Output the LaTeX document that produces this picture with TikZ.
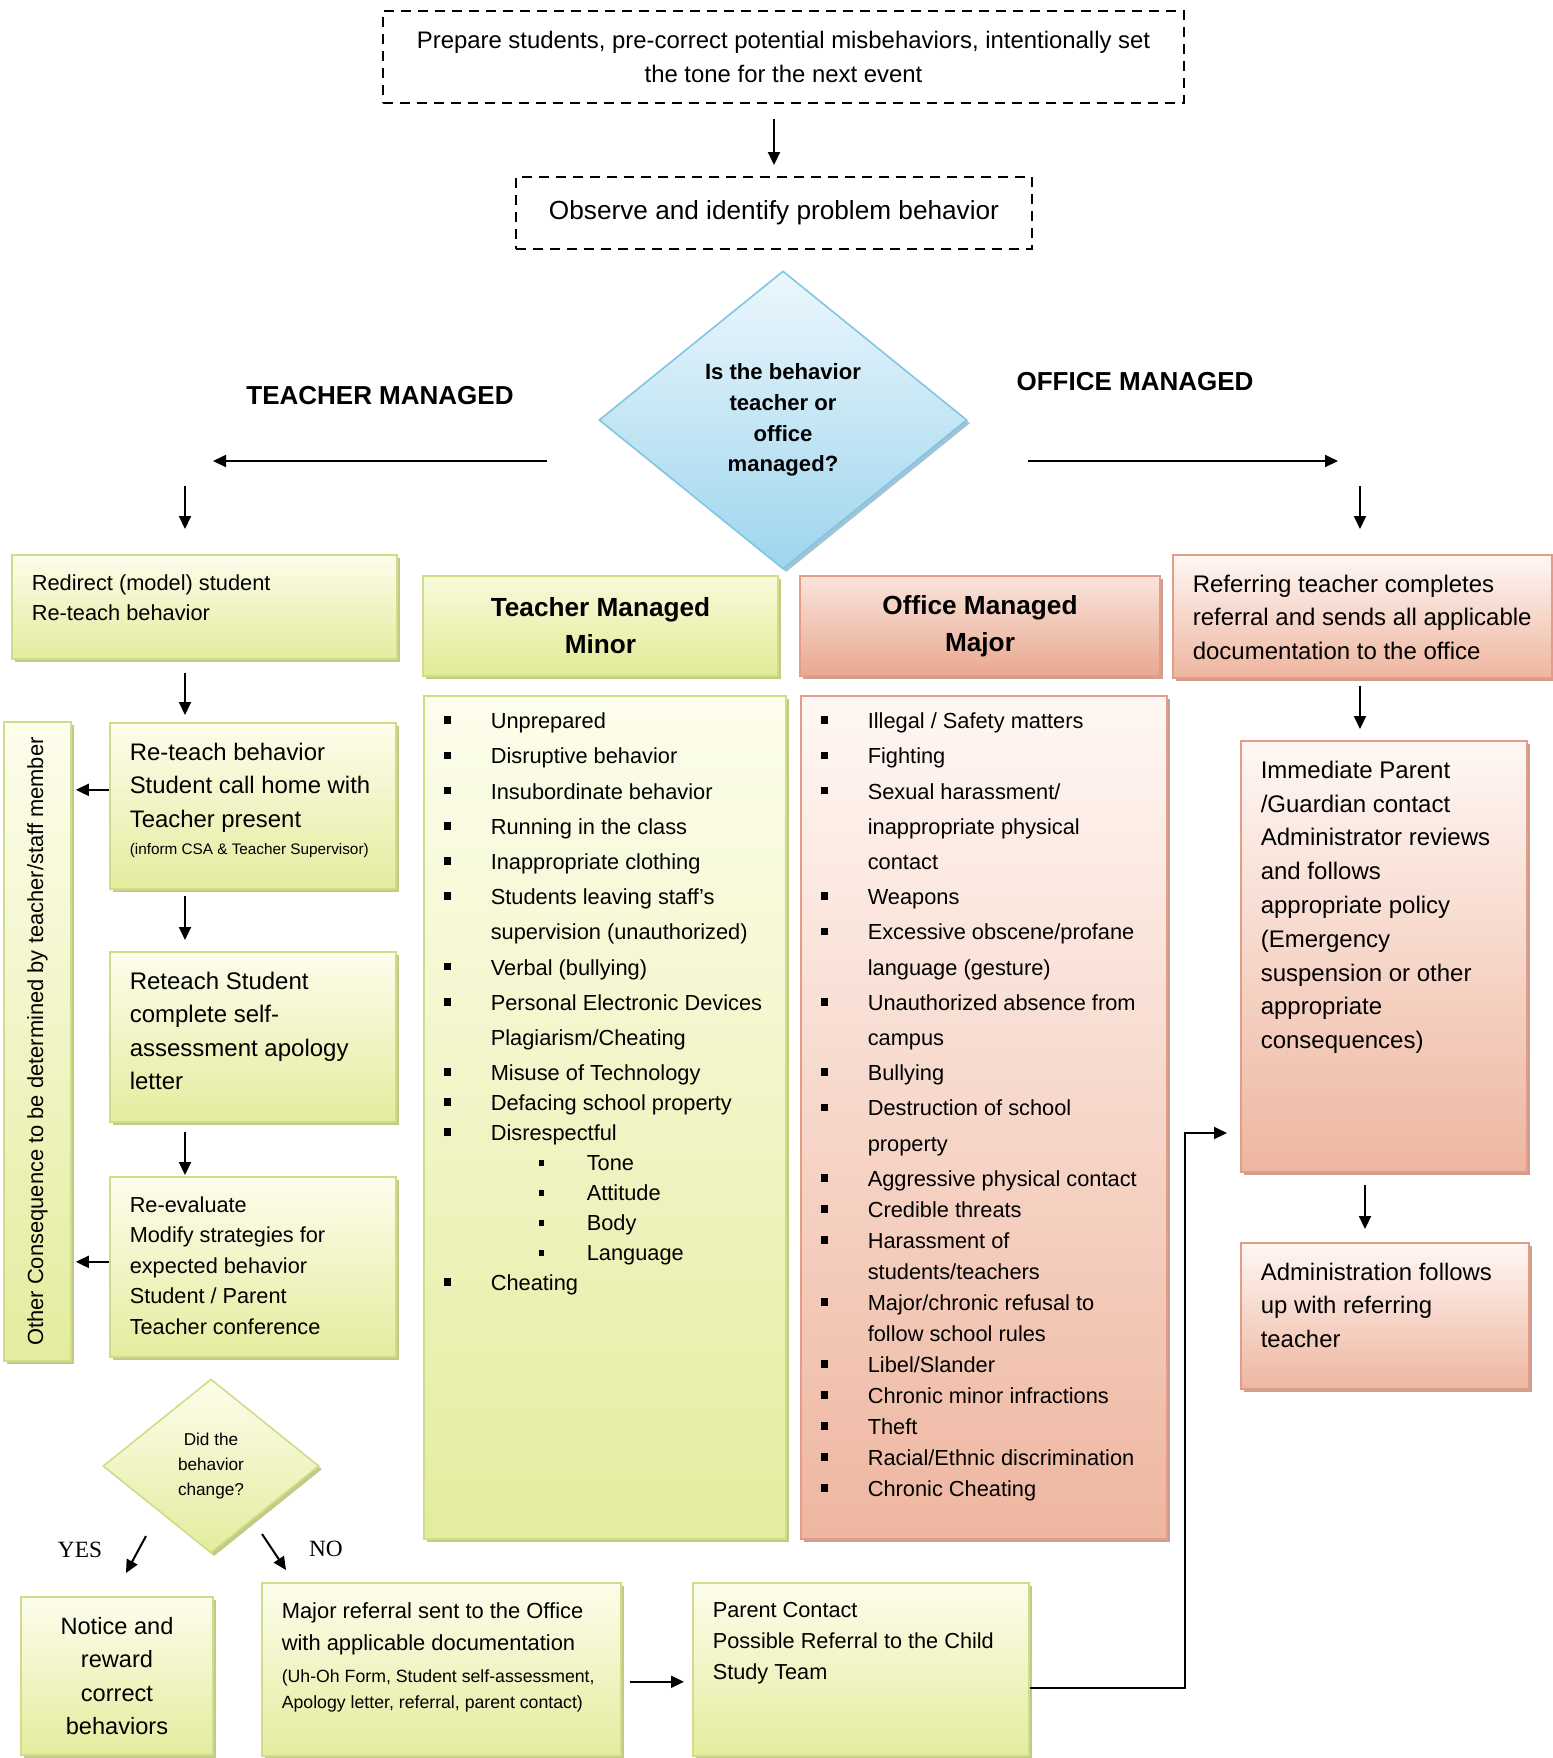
\documentclass[tikz,border=0pt]{standalone}
\usepackage{fontspec}
\setmainfont{Liberation Sans}
\newfontfamily\yesnofont{Liberation Serif}
\usepackage{tikz}
\usetikzlibrary{shapes.geometric, arrows.meta, shadows, calc}
\definecolor{grnline}{RGB}{208,220,134}
\definecolor{grntop}{RGB}{253,253,236}
\definecolor{grnbot}{RGB}{228,236,158}
\definecolor{grnshd}{RGB}{186,196,122}
\definecolor{ghtop}{RGB}{248,250,218}
\definecolor{ghbot}{RGB}{226,235,150}
\definecolor{redline}{RGB}{226,156,136}
\definecolor{redtop}{RGB}{255,247,243}
\definecolor{redbot}{RGB}{238,182,160}
\definecolor{redshd}{RGB}{196,150,134}
\definecolor{rhtop}{RGB}{249,228,219}
\definecolor{rhbot}{RGB}{233,168,144}
\definecolor{bluline}{RGB}{128,198,228}
\definecolor{blutop}{RGB}{236,247,252}
\definecolor{blubot}{RGB}{158,213,238}
\definecolor{blushd}{RGB}{120,170,195}

\newcommand{\fsz}[2]{\fontsize{#1}{#2}\selectfont}
% top-aligned text block of fixed size (width, height, text)
\newcommand{\boxtxt}[3]{\makebox[#1][l]{\parbox[c][#2][t]{\dimexpr#1+40pt\relax}{\raggedright#3}}}
% list lines: bullet, continuation, sub-bullet
\newcommand{\itm}[1]{\makebox[23.5pt][l]{\rule[2.3pt]{3.8pt}{3.8pt}}#1}
\newcommand{\itc}[1]{\hspace*{23.5pt}#1}
\newcommand{\its}[1]{\hspace*{47.5pt}\makebox[24pt][l]{\rule[2.5pt]{2.8pt}{2.8pt}}#1}

\begin{document}
\begin{tikzpicture}[
  x=0.5pt, y=-0.5pt,
  arr/.style     = {-{Triangle[length=6.5pt,width=6pt]}, line width=1pt},
  dashbox/.style = {draw, line width=1pt, dash pattern=on 5pt off 3.5pt, fill=white,
                    align=center, inner sep=0pt},
  basebox/.style = {line width=0.8pt, anchor=north west, inner sep=10pt},
  gbox/.style    = {basebox, draw=grnline, top color=grntop, bottom color=grnbot,
                    drop shadow={shadow xshift=1.6pt, shadow yshift=-1.6pt, fill=grnshd, opacity=0.9}},
  rbox/.style    = {basebox, draw=redline, top color=redtop, bottom color=redbot,
                    drop shadow={shadow xshift=1.6pt, shadow yshift=-1.6pt, fill=redshd, opacity=0.9}},
  ghead/.style   = {gbox, top color=ghtop, bottom color=ghbot, anchor=center, align=center,
                    inner sep=0pt, font=\bfseries\fsz{13.1}{18.5}},
  rhead/.style   = {rbox, top color=rhtop, bottom color=rhbot, anchor=center, align=center,
                    inner sep=0pt, font=\bfseries\fsz{13.1}{18.5}},
  glist/.style   = {gbox, inner xsep=10pt, inner ysep=8.5pt, font=\fsz{10.9}{17.6}},
  rlist/.style   = {rbox, inner xsep=10pt, inner ysep=8.5pt, font=\fsz{10.9}{17.6}},
  decide/.style  = {diamond, aspect=1.23, draw=bluline, line width=0.8pt, top color=blutop,
                    bottom color=blubot, inner sep=0pt, align=center,
                    drop shadow={shadow xshift=1.6pt, shadow yshift=-1.6pt, fill=blushd, opacity=0.7}},
  gdia/.style    = {diamond, aspect=1.24, draw=grnline, line width=0.8pt, top color=grntop,
                    bottom color=grnbot, inner sep=0pt, align=center,
                    drop shadow={shadow xshift=1.6pt, shadow yshift=-1.6pt, fill=grnshd, opacity=0.9}},
  sidelab/.style = {font=\bfseries\fsz{13}{16}},
  yn/.style      = {font=\yesnofont\fsz{11.65}{14}},
]
\useasboundingbox (0,0) rectangle (1553,1758);

%% --- Preparation and observation ---
\node[dashbox, minimum width=400.5pt, minimum height=46pt, font=\fsz{11.95}{17}] (prep) at (783.5,57)
  {Prepare students, pre-correct potential misbehaviors, intentionally set\\the tone for the next event};
\node[dashbox, minimum width=258pt, minimum height=36pt, font=\fsz{13.1}{16}] (obs) at (774,213)
  {Observe and identify problem behavior};

%% --- Decision ---
\node[decide, minimum width=184pt, minimum height=149pt, font=\bfseries\fsz{11.05}{15.4}] (dec) at (783,420)
  {Is the behavior\\teacher or\\office\\managed?};
\node[sidelab] (tmlab) at (380,396) {TEACHER MANAGED};
\node[sidelab] (omlab) at (1135,382) {OFFICE MANAGED};

%% --- Teacher managed steps ---
\node[gbox, font=\fsz{10.9}{15}] (redir) at (11,554)
  {\boxtxt{172.5pt}{32pt}{Redirect (model) student\\Re-teach behavior}};
\node[gbox, font=\fsz{11.95}{16.75}] (retch) at (109,722)
  {\boxtxt{123pt}{63pt}{Re-teach behavior\\Student call home with\\Teacher present\par
   {\fsz{7.65}{13.5}(inform CSA \& Teacher Supervisor)\par}}};
\node[gbox, font=\fsz{12}{16.7}] (rstud) at (109,951)
  {\boxtxt{123pt}{65pt}{Reteach Student\\complete self-\\assessment apology\\letter}};
\node[gbox, font=\fsz{10.85}{15.2}] (reeval) at (109,1176)
  {\boxtxt{123pt}{70pt}{Re-evaluate\\Modify strategies for\\expected behavior\\Student / Parent\\Teacher conference}};
\node[gbox, anchor=center, minimum width=33.5pt, minimum height=319.5pt, inner sep=0pt,
      font=\fsz{10.95}{13}] (other) at (37.5,1041.5)
  {\rotatebox{90}{Other Consequence to be determined by teacher/staff member}};

%% --- Did the behavior change ---
\node[gdia, minimum width=108pt, minimum height=87pt, font=\fsz{8.6}{12.35}] (chg) at (211,1466)
  {Did the\\behavior\\change?};
\node[yn] (yes) at (80,1550) {YES};
\node[yn] (no) at (326,1549) {NO};
\node[gbox, anchor=center, align=center, minimum width=96pt, minimum height=79pt, inner sep=0pt,
      font=\fsz{11.8}{16.8}] (notice) at (117,1676) {Notice and\\reward\\correct\\behaviors};
\node[gbox, font=\fsz{10.95}{15.7}] (mref) at (261,1582)
  {\boxtxt{159.5pt}{66.5pt}{Major referral sent to the Office\\with applicable documentation\par
   \vspace{2.55pt}{\fsz{8.85}{13.45}(Uh-Oh Form, Student self-assessment,\\Apology letter, referral, parent contact)\par}}};
\node[gbox, font=\fsz{10.85}{15.5}] (par) at (692,1582)
  {\boxtxt{148pt}{66.5pt}{Parent Contact\\Possible Referral to the Child\\Study Team}};

%% --- Minor / Major lists ---
\node[ghead, minimum width=177.5pt, minimum height=50pt] (minh) at (600.5,626) {Teacher Managed\\Minor};
\node[rhead, minimum width=180pt, minimum height=50pt] (majh) at (980,626) {Office Managed\\Major};

\node[glist] (minl) at (423,695) {\boxtxt{161pt}{404.5pt}{%
  \itm{Unprepared}\\
  \itm{Disruptive behavior}\\
  \itm{Insubordinate behavior}\\
  \itm{Running in the class}\\
  \itm{Inappropriate clothing}\\
  \itm{Students leaving staff’s}\\
  \itc{supervision (unauthorized)}\\
  \itm{Verbal (bullying)}\\
  \itm{Personal Electronic Devices}\\
  \itc{Plagiarism/Cheating}\\
  \itm{Misuse of Technology}\\[-2.6pt]
  \itm{Defacing school property}\\[-2.6pt]
  \itm{Disrespectful}\\[-2.6pt]
  \its{Tone}\\[-2.6pt]
  \its{Attitude}\\[-2.6pt]
  \its{Body}\\[-2.6pt]
  \its{Language}\\[-2.6pt]
  \itm{Cheating}}};

\node[rlist] (majl) at (800,695) {\boxtxt{163pt}{404.5pt}{%
  \itm{Illegal / Safety matters}\\
  \itm{Fighting}\\
  \itm{Sexual harassment/}\\
  \itc{inappropriate physical}\\
  \itc{contact}\\
  \itm{Weapons}\\
  \itm{Excessive obscene/profane}\\
  \itc{language (gesture)}\\
  \itm{Unauthorized absence from}\\
  \itc{campus}\\
  \itm{Bullying}\\
  \itm{Destruction of school}\\
  \itc{property}\\
  \itm{Aggressive physical contact}\\[-2.1pt]
  \itm{Credible threats}\\[-2.1pt]
  \itm{Harassment of}\\[-2.1pt]
  \itc{students/teachers}\\[-2.1pt]
  \itm{Major/chronic refusal to}\\[-2.1pt]
  \itc{follow school rules}\\[-2.1pt]
  \itm{Libel/Slander}\\[-2.1pt]
  \itm{Chronic minor infractions}\\[-2.1pt]
  \itm{Theft}\\[-2.1pt]
  \itm{Racial/Ethnic discrimination}\\[-2.1pt]
  \itm{Chronic Cheating}}};

%% --- Office managed steps ---
\node[rbox, font=\fsz{12}{16.8}] (refer) at (1172,554)
  {\boxtxt{169.5pt}{41.5pt}{Referring teacher completes\\referral and sends all applicable\\documentation to the office}};
\node[rbox, font=\fsz{12}{16.9}] (imm) at (1240,740)
  {\boxtxt{123pt}{195.5pt}{Immediate Parent\\/Guardian contact\\Administrator reviews\\and follows\\appropriate policy\\(Emergency\\suspension or other\\appropriate\\consequences)}};
\node[rbox, font=\fsz{11.95}{16.75}] (admin) at (1240,1242)
  {\boxtxt{124pt}{53pt}{Administration follows\\up with referring\\teacher}};

%% --- Free arrow ends ---
\coordinate (tmA) at (547,461);
\coordinate (tmB) at (213,461);
\coordinate (omA) at (1028,461);
\coordinate (omB) at (1338,461);
\coordinate (tmC) at (185,486);
\coordinate (omC) at (1360,486);
\coordinate (colL) at (185,0);
\coordinate (colR) at (1360,0);
\coordinate (colR2) at (1365,0);
\coordinate (yesA) at (146,1536);
\coordinate (yesB) at (126,1573);
\coordinate (noA) at (262,1534);
\coordinate (noB) at (286,1570);
\coordinate (bend) at (1185,1133);

%% --- Arrows ---
\draw[arr, shorten <=7.5pt, shorten >=5.5pt] (prep.south -| obs.north) -- (obs.north);
\draw[arr] (tmA) -- (tmB);
\draw[arr] (omA) -- (omB);
\draw[arr, shorten >=12.5pt] (tmC) -- (tmC |- redir.north);
\draw[arr, shorten >=12.5pt] (omC) -- (omC |- refer.north);

\draw[arr, shorten <=6.5pt, shorten >=3.5pt] (redir.south -| colL) -- (retch.north -| colL);
\draw[arr, shorten <=3pt, shorten >=5.5pt] (retch.south -| colL) -- (rstud.north -| colL);
\draw[arr, shorten <=4.5pt, shorten >=0.5pt] (rstud.south -| colL) -- (reeval.north -| colL);
\draw[arr, shorten >=2pt] ([yshift=8pt]retch.west) -- ([yshift=8pt]retch.west -| other.east);
\draw[arr, shorten >=2pt] ([yshift=2.5pt]reeval.west) -- ([yshift=2.5pt]reeval.west -| other.east);

\draw[arr] (yesA) -- (yesB);
\draw[arr] (noA) -- (noB);
\draw[arr, shorten <=4pt, shorten >=4pt] ([yshift=-6.25pt]mref.east) -- ([yshift=-6.25pt]mref.east -| par.west);
\draw[arr, shorten >=6.5pt] ([yshift=-9.25pt]par.east) -| (bend) -- (bend -| imm.west);

\draw[arr, shorten <=3.5pt, shorten >=5.5pt] (refer.south -| colR) -- (imm.north -| colR);
\draw[arr, shorten <=6pt, shorten >=6.5pt] (imm.south -| colR2) -- (admin.north -| colR2);

\end{tikzpicture}
\end{document}
